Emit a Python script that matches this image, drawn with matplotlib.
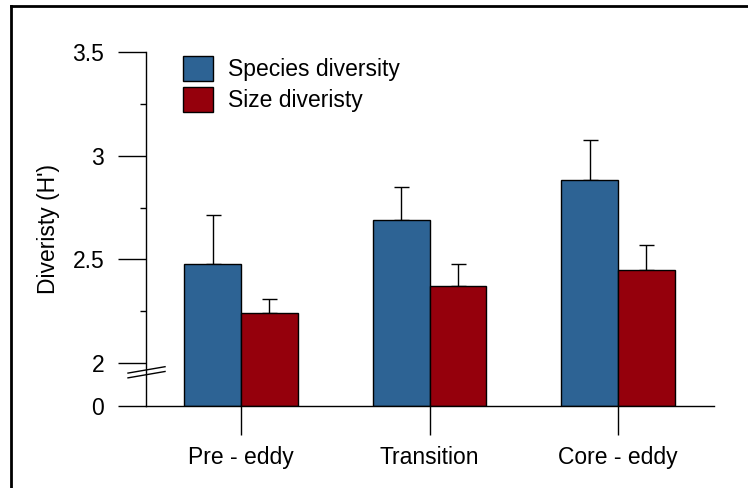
import numpy as np
import matplotlib
matplotlib.use('Agg')
import matplotlib.pyplot as plt
from matplotlib.lines import Line2D

# dane
groups = ['Pre - eddy', 'Transition', 'Core - eddy']
species = [2.477, 2.692, 2.885]
species_err = [0.236, 0.156, 0.193]
size = [2.240, 2.370, 2.449]
size_err = [0.069, 0.109, 0.120]

plt.rcParams['font.family'] = ['Liberation Sans', 'DejaVu Sans']
fs = 16.5

# os y z przerwa: odcinek 0-2 mocno sciesniony
k = 0.1034
def fwd(v):
    v = np.asarray(v, dtype=float)
    return np.where(v >= 2, v, 2 - (2 - v) * k)

def inv(t):
    t = np.asarray(t, dtype=float)
    return np.where(t >= 2, t, 2 - (2 - t) / k)

fig = plt.figure(figsize=(7.48, 4.88), dpi=100)
ax = fig.add_axes([146/748, 82/488, 568/748, 354/488])
ax.set_yscale('function', functions=(fwd, inv))
ax.set_ylim(0, 3.5)
ax.set_xlim(-0.504, 2.509)

x = np.arange(len(groups))
w = 0.30
blue = '#2D6394'
red = '#95000C'
ax.bar(x - w/2, species, w, bottom=0, color=blue, edgecolor='black', linewidth=1.0,
       label='Species diversity', zorder=2)
ax.bar(x + w/2, size, w, bottom=0, color=red, edgecolor='black', linewidth=1.0,
       label='Size diveristy', zorder=2)
ax.errorbar(x - w/2, species, yerr=[np.zeros(3), species_err], fmt='none',
            ecolor='black', elinewidth=1.0, capsize=5.4, capthick=1.0, zorder=1)
ax.errorbar(x + w/2, size, yerr=[np.zeros(3), size_err], fmt='none',
            ecolor='black', elinewidth=1.0, capsize=5.4, capthick=1.0, zorder=1)

for s in ['top', 'right']:
    ax.spines[s].set_visible(False)
for s in ['left', 'bottom']:
    ax.spines[s].set_linewidth(1.0)

ax.set_yticks([0, 2, 2.5, 3, 3.5])
ax.set_yticklabels(['0', '2', '2.5', '3', '3.5'])
ax.set_yticks([2.25, 2.75, 3.25], minor=True)
ax.yaxis.set_minor_formatter(plt.NullFormatter())
ax.tick_params(axis='y', which='major', length=20, width=1.0, pad=10, labelsize=fs)
ax.tick_params(axis='y', which='minor', length=4.5, width=1.0)
ax.set_xticks(x)
ax.set_xticklabels(groups)
ax.tick_params(axis='x', length=21, width=1.0, pad=8, labelsize=fs)

ax.set_ylabel("Diveristy (H')", fontsize=fs)
ax.yaxis.set_label_coords(-0.152, 0.5)

# znaczek przerwy osi
for dy in (0.0, -0.0135):
    ax.add_line(Line2D([-0.0317, 0.0335], [0.093 + dy, 0.111 + dy],
                       transform=ax.transAxes, color='black', lw=1.0, clip_on=False))

ax.legend(loc='upper left', bbox_to_anchor=(0.0651, 0.988), frameon=False,
          fontsize=fs, handlelength=1.31, handleheight=1.3, handletextpad=0.65,
          labelspacing=0.25, borderpad=0, borderaxespad=0)

# ramka obrazka (lewa i gorna krawedz)
fig.add_artist(Line2D([11/748, 11/748], [0, 1 - 6/488], transform=fig.transFigure,
                      color='black', lw=2.0))
fig.add_artist(Line2D([11/748, 1], [1 - 6/488, 1 - 6/488], transform=fig.transFigure,
                      color='black', lw=2.0))

fig.savefig('out.png', dpi=100)
